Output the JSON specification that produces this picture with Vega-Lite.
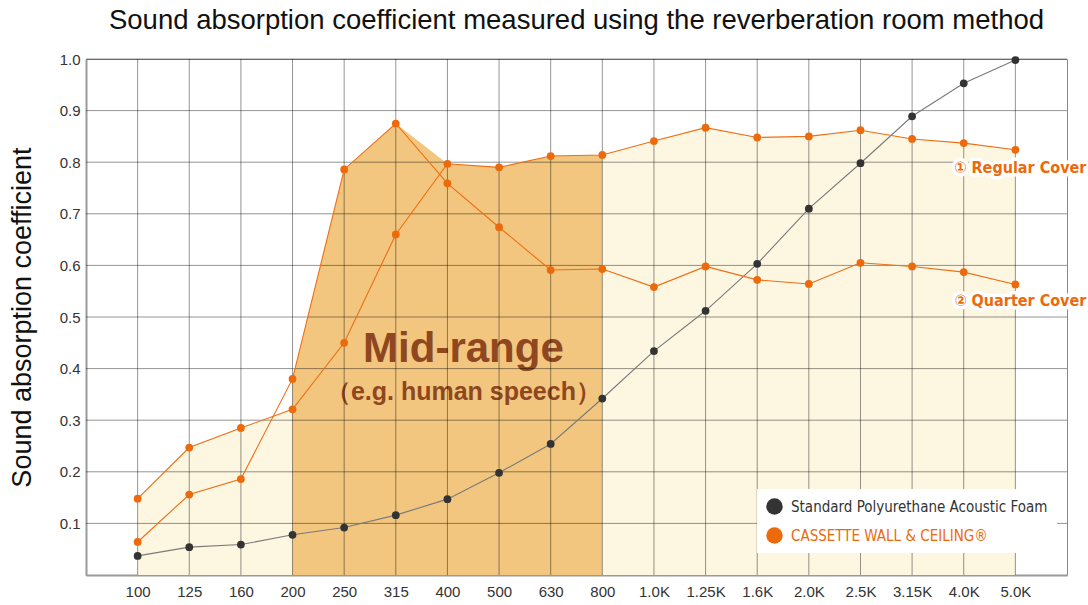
{
  "$schema": "https://vega.github.io/schema/vega-lite/v6.json",
  "width": 981,
  "height": 516,
  "autosize": {"type": "none"},
  "padding": {"left": 86, "top": 59, "right": 21, "bottom": 30},
  "background": "white",
  "title": {
    "text": "Sound absorption coefficient measured using the reverberation room method",
    "anchor": "middle",
    "font": "Liberation Sans",
    "fontSize": 27.5,
    "fontWeight": "normal",
    "color": "#111111",
    "baseline": "bottom",
    "offset": -10
  },
  "config": {
    "view": {"stroke": "#888888", "strokeWidth": 1},
    "axis": {"grid": false, "ticks": false, "domainColor": "#9a9a9a", "domainWidth": 2, "labelFont": "Liberation Sans", "labelFontSize": 15, "labelColor": "#333333"}
  },
  "datasets": {
    "meas": [
      {"freq": "100", "series": "Foam", "material": "Standard Polyurethane Acoustic Foam", "value": 0.037},
      {"freq": "125", "series": "Foam", "material": "Standard Polyurethane Acoustic Foam", "value": 0.054},
      {"freq": "160", "series": "Foam", "material": "Standard Polyurethane Acoustic Foam", "value": 0.059},
      {"freq": "200", "series": "Foam", "material": "Standard Polyurethane Acoustic Foam", "value": 0.078},
      {"freq": "250", "series": "Foam", "material": "Standard Polyurethane Acoustic Foam", "value": 0.092},
      {"freq": "315", "series": "Foam", "material": "Standard Polyurethane Acoustic Foam", "value": 0.116},
      {"freq": "400", "series": "Foam", "material": "Standard Polyurethane Acoustic Foam", "value": 0.147},
      {"freq": "500", "series": "Foam", "material": "Standard Polyurethane Acoustic Foam", "value": 0.198},
      {"freq": "630", "series": "Foam", "material": "Standard Polyurethane Acoustic Foam", "value": 0.254},
      {"freq": "800", "series": "Foam", "material": "Standard Polyurethane Acoustic Foam", "value": 0.342},
      {"freq": "1.0K", "series": "Foam", "material": "Standard Polyurethane Acoustic Foam", "value": 0.434},
      {"freq": "1.25K", "series": "Foam", "material": "Standard Polyurethane Acoustic Foam", "value": 0.512},
      {"freq": "1.6K", "series": "Foam", "material": "Standard Polyurethane Acoustic Foam", "value": 0.603},
      {"freq": "2.0K", "series": "Foam", "material": "Standard Polyurethane Acoustic Foam", "value": 0.71},
      {"freq": "2.5K", "series": "Foam", "material": "Standard Polyurethane Acoustic Foam", "value": 0.798},
      {"freq": "3.15K", "series": "Foam", "material": "Standard Polyurethane Acoustic Foam", "value": 0.889},
      {"freq": "4.0K", "series": "Foam", "material": "Standard Polyurethane Acoustic Foam", "value": 0.953},
      {"freq": "5.0K", "series": "Foam", "material": "Standard Polyurethane Acoustic Foam", "value": 0.998},
      {"freq": "100", "series": "Regular", "material": "CASSETTE WALL & CEILING®", "value": 0.148},
      {"freq": "125", "series": "Regular", "material": "CASSETTE WALL & CEILING®", "value": 0.247},
      {"freq": "160", "series": "Regular", "material": "CASSETTE WALL & CEILING®", "value": 0.285},
      {"freq": "200", "series": "Regular", "material": "CASSETTE WALL & CEILING®", "value": 0.321},
      {"freq": "250", "series": "Regular", "material": "CASSETTE WALL & CEILING®", "value": 0.45},
      {"freq": "315", "series": "Regular", "material": "CASSETTE WALL & CEILING®", "value": 0.66},
      {"freq": "400", "series": "Regular", "material": "CASSETTE WALL & CEILING®", "value": 0.797},
      {"freq": "500", "series": "Regular", "material": "CASSETTE WALL & CEILING®", "value": 0.79},
      {"freq": "630", "series": "Regular", "material": "CASSETTE WALL & CEILING®", "value": 0.812},
      {"freq": "800", "series": "Regular", "material": "CASSETTE WALL & CEILING®", "value": 0.814},
      {"freq": "1.0K", "series": "Regular", "material": "CASSETTE WALL & CEILING®", "value": 0.841},
      {"freq": "1.25K", "series": "Regular", "material": "CASSETTE WALL & CEILING®", "value": 0.867},
      {"freq": "1.6K", "series": "Regular", "material": "CASSETTE WALL & CEILING®", "value": 0.848},
      {"freq": "2.0K", "series": "Regular", "material": "CASSETTE WALL & CEILING®", "value": 0.85},
      {"freq": "2.5K", "series": "Regular", "material": "CASSETTE WALL & CEILING®", "value": 0.862},
      {"freq": "3.15K", "series": "Regular", "material": "CASSETTE WALL & CEILING®", "value": 0.845},
      {"freq": "4.0K", "series": "Regular", "material": "CASSETTE WALL & CEILING®", "value": 0.837},
      {"freq": "5.0K", "series": "Regular", "material": "CASSETTE WALL & CEILING®", "value": 0.824},
      {"freq": "100", "series": "Quarter", "material": "CASSETTE WALL & CEILING®", "value": 0.064},
      {"freq": "125", "series": "Quarter", "material": "CASSETTE WALL & CEILING®", "value": 0.156},
      {"freq": "160", "series": "Quarter", "material": "CASSETTE WALL & CEILING®", "value": 0.186},
      {"freq": "200", "series": "Quarter", "material": "CASSETTE WALL & CEILING®", "value": 0.38},
      {"freq": "250", "series": "Quarter", "material": "CASSETTE WALL & CEILING®", "value": 0.786},
      {"freq": "315", "series": "Quarter", "material": "CASSETTE WALL & CEILING®", "value": 0.875},
      {"freq": "400", "series": "Quarter", "material": "CASSETTE WALL & CEILING®", "value": 0.759},
      {"freq": "500", "series": "Quarter", "material": "CASSETTE WALL & CEILING®", "value": 0.674},
      {"freq": "630", "series": "Quarter", "material": "CASSETTE WALL & CEILING®", "value": 0.591},
      {"freq": "800", "series": "Quarter", "material": "CASSETTE WALL & CEILING®", "value": 0.593},
      {"freq": "1.0K", "series": "Quarter", "material": "CASSETTE WALL & CEILING®", "value": 0.558},
      {"freq": "1.25K", "series": "Quarter", "material": "CASSETTE WALL & CEILING®", "value": 0.598},
      {"freq": "1.6K", "series": "Quarter", "material": "CASSETTE WALL & CEILING®", "value": 0.572},
      {"freq": "2.0K", "series": "Quarter", "material": "CASSETTE WALL & CEILING®", "value": 0.564},
      {"freq": "2.5K", "series": "Quarter", "material": "CASSETTE WALL & CEILING®", "value": 0.605},
      {"freq": "3.15K", "series": "Quarter", "material": "CASSETTE WALL & CEILING®", "value": 0.598},
      {"freq": "4.0K", "series": "Quarter", "material": "CASSETTE WALL & CEILING®", "value": 0.587},
      {"freq": "5.0K", "series": "Quarter", "material": "CASSETTE WALL & CEILING®", "value": 0.563}
    ],
    "fill": [
      {"freq": "100", "band": "low", "top": 0.148},
      {"freq": "125", "band": "low", "top": 0.247},
      {"freq": "160", "band": "low", "top": 0.285},
      {"freq": "200", "band": "low", "top": 0.321},
      {"freq": "200", "band": "mid", "top": 0.38},
      {"freq": "250", "band": "mid", "top": 0.786},
      {"freq": "315", "band": "mid", "top": 0.875},
      {"freq": "400", "band": "mid", "top": 0.797},
      {"freq": "500", "band": "mid", "top": 0.79},
      {"freq": "630", "band": "mid", "top": 0.812},
      {"freq": "800", "band": "mid", "top": 0.814},
      {"freq": "800", "band": "high", "top": 0.814},
      {"freq": "1.0K", "band": "high", "top": 0.841},
      {"freq": "1.25K", "band": "high", "top": 0.867},
      {"freq": "1.6K", "band": "high", "top": 0.848},
      {"freq": "2.0K", "band": "high", "top": 0.85},
      {"freq": "2.5K", "band": "high", "top": 0.862},
      {"freq": "3.15K", "band": "high", "top": 0.845},
      {"freq": "4.0K", "band": "high", "top": 0.837},
      {"freq": "5.0K", "band": "high", "top": 0.824}
    ],
    "gridy": [
      {"v": 0.1}, {"v": 0.2}, {"v": 0.3}, {"v": 0.4}, {"v": 0.5},
      {"v": 0.6}, {"v": 0.7}, {"v": 0.8}, {"v": 0.9}, {"v": 1.0}
    ],
    "notes": [
      {"freq": "5.0K", "value": 0.789, "text": "① Regular Cover"},
      {"freq": "5.0K", "value": 0.531, "text": "② Quarter Cover"}
    ],
    "mid": [
      {"freq": "400", "value": 0.413, "text": "Mid-range"}
    ],
    "mid2": [
      {"freq": "400", "value": 0.339, "text": "（e.g. human speech）"}
    ]
  },
  "encoding": {
    "x": {
      "field": "freq",
      "type": "ordinal",
      "sort": ["100", "125", "160", "200", "250", "315", "400", "500", "630", "800", "1.0K", "1.25K", "1.6K", "2.0K", "2.5K", "3.15K", "4.0K", "5.0K"],
      "scale": {"type": "point", "padding": 1, "domain": ["100", "125", "160", "200", "250", "315", "400", "500", "630", "800", "1.0K", "1.25K", "1.6K", "2.0K", "2.5K", "3.15K", "4.0K", "5.0K"]},
      "axis": {"title": null, "labelAngle": 0, "labelPadding": 9}
    }
  },
  "layer": [
    {
      "data": {"name": "fill"},
      "mark": {"type": "area", "interpolate": "linear", "opacity": 1},
      "encoding": {
        "y": {
          "field": "top",
          "type": "quantitative",
          "stack": null,
          "scale": {"domain": [0, 1], "nice": false},
          "axis": {
            "values": [0.1, 0.2, 0.3, 0.4, 0.5, 0.6, 0.7, 0.8, 0.9, 1.0],
            "format": ".1f",
            "labelPadding": 6,
            "title": "Sound absorption coefficient",
            "titleFont": "Liberation Sans",
            "titleFontSize": 27,
            "titleFontWeight": "normal",
            "titleColor": "#111111",
            "titlePadding": 23
          }
        },
        "fill": {
          "field": "band",
          "type": "nominal",
          "scale": {"domain": ["low", "mid", "high"], "range": ["#FDF6E0", "#F2C67E", "#FDF6E0"]},
          "legend": null
        }
      }
    },
    {
      "data": {"name": "mid"},
      "mark": {"type": "text", "font": "Liberation Sans", "fontSize": 42, "fontWeight": "bold", "color": "#8E4720", "align": "center", "baseline": "alphabetic", "dx": 16},
      "encoding": {
        "y": {"field": "value", "type": "quantitative"},
        "text": {"field": "text"}
      }
    },
    {
      "data": {"name": "mid2"},
      "mark": {"type": "text", "font": "Liberation Sans", "fontSize": 25, "fontWeight": "bold", "color": "#8E4720", "align": "center", "baseline": "alphabetic", "dx": 16},
      "encoding": {
        "y": {"field": "value", "type": "quantitative"},
        "text": {"field": "text"}
      }
    },
    {
      "data": {"name": "meas"},
      "transform": [{"filter": "datum.series === 'Foam'"}],
      "mark": {"type": "rule", "color": "#000000", "opacity": 0.42, "strokeWidth": 1},
      "encoding": {}
    },
    {
      "data": {"name": "gridy"},
      "mark": {"type": "rule", "color": "#000000", "opacity": 0.42, "strokeWidth": 1},
      "encoding": {
        "x": null,
        "y": {"field": "v", "type": "quantitative"}
      }
    },
    {
      "data": {"name": "meas"},
      "mark": {"type": "line", "strokeWidth": 1.1},
      "encoding": {
        "y": {"field": "value", "type": "quantitative"},
        "stroke": {
          "field": "series",
          "type": "nominal",
          "scale": {"domain": ["Foam", "Regular", "Quarter"], "range": ["#7a7a7a", "#EE6E14", "#EE6E14"]},
          "legend": null
        }
      }
    },
    {
      "data": {"name": "meas"},
      "mark": {"type": "point", "filled": true, "size": 60, "opacity": 1},
      "encoding": {
        "y": {"field": "value", "type": "quantitative"},
        "color": {
          "field": "material",
          "type": "nominal",
          "scale": {"domain": ["Standard Polyurethane Acoustic Foam", "CASSETTE WALL & CEILING®"], "range": ["#333333", "#EC6A0C"]},
          "legend": {
            "title": null,
            "orient": "none",
            "legendX": 671,
            "legendY": 430,
            "fillColor": "white",
            "padding": 9,
            "symbolType": "circle",
            "symbolSize": 270,
            "symbolStrokeWidth": 0,
            "symbolOpacity": 1,
            "labelFont": "Liberation Sans Narrow, DejaVu Sans Condensed, Liberation Sans",
            "labelFontSize": 15,
            "labelOffset": 8,
            "rowPadding": 12,
            "labelLimit": 400,
            "labelColor": {"expr": "datum.label === 'CASSETTE WALL & CEILING®' ? '#EC6A0C' : '#333333'"},
            "zindex": 2
          }
        }
      }
    },
    {
      "data": {"name": "notes"},
      "mark": {"type": "text", "font": "Liberation Sans Narrow, DejaVu Sans Condensed, Liberation Sans", "fontSize": 16, "fontWeight": "bold", "color": "white", "stroke": "white", "strokeWidth": 7, "strokeJoin": "round", "align": "center", "baseline": "middle", "dx": 5},
      "encoding": {
        "y": {"field": "value", "type": "quantitative"},
        "text": {"field": "text"}
      }
    },
    {
      "data": {"name": "notes"},
      "mark": {"type": "text", "font": "Liberation Sans Narrow, DejaVu Sans Condensed, Liberation Sans", "fontSize": 16, "fontWeight": "bold", "color": "#EC6A0C", "align": "center", "baseline": "middle", "dx": 5},
      "encoding": {
        "y": {"field": "value", "type": "quantitative"},
        "text": {"field": "text"}
      }
    }
  ]
}
